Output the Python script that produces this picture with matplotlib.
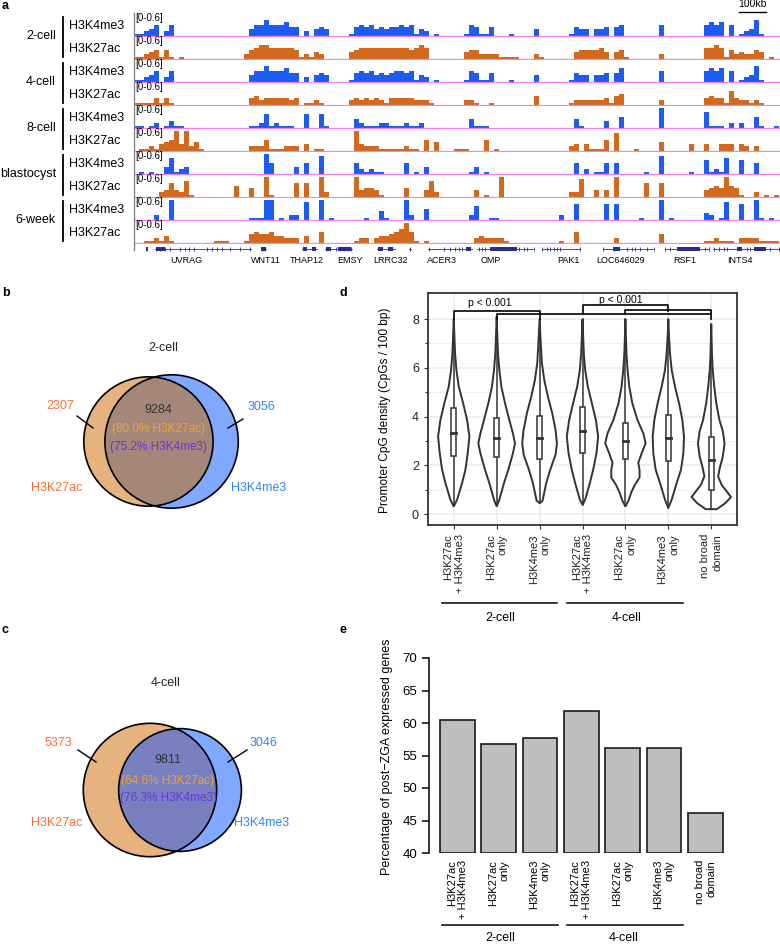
import matplotlib
matplotlib.use('Agg')
import matplotlib.pyplot as plt
import numpy as np
from matplotlib.patches import Circle, Rectangle, Polygon
from matplotlib.lines import Line2D
from matplotlib import transforms

plt.rcParams['font.family'] = ['Liberation Sans', 'DejaVu Sans']

W, H = 780, 944

# ---------------- panel a : genome browser tracks ----------------
stages = ['2-cell', '4-cell', '8-cell', 'blastocyst', '6-week']
marks = ['H3K4me3', 'H3K27ac']
n_bins = 130          # 1 bin ~ 18.5 kb
sig_unit = 0.065      # signal step (track range 0-0.6)

k4_2cell = {0:1,1:1,2:2,3:3,4:5,6:2,7:5, 23:3,24:5,25:5,26:7,27:5,28:5,29:5,30:6,31:4,32:4,
            34:2,36:3,37:4,38:3, 43:1,44:4,45:5,46:4,47:5,48:3,49:4,50:3,51:4,52:4,53:5,54:4,55:5,
            56:1,57:3,58:2,60:1, 66:1,67:5,68:4,69:1,70:1,71:4,75:1, 80:3, 87:1,88:4,89:3,90:3,
            92:3,93:3,94:4,96:4,97:5, 105:5, 114:5,115:6,116:5,117:6,119:5,121:1,122:2,123:3,124:7,125:1}
k27_2cell = {0:1,1:1,2:2,3:3,4:4,5:1,6:4,7:1,9:1, 22:2,23:4,24:5,25:6,26:6,27:5,28:5,29:5,30:5,31:5,
             32:4,33:1,34:2,35:1,36:3,37:2, 43:3,44:4,45:5,46:5,47:5,48:5,49:5,50:5,51:5,52:5,53:5,
             54:5,55:4,56:5,57:6,58:5, 66:3,67:4,68:4,69:2,70:2,71:2,72:2,73:1,74:1,75:1,76:1, 80:2,81:1,
             88:3,89:4,90:4,91:4,92:4,93:5,94:3,96:3,97:4,98:1, 105:2, 114:5,115:5,116:6,117:5,118:1,
             119:4,120:2,121:3,122:2,123:2,124:4,125:3,127:1}
k4_4cell = {0:1,1:1,2:2,3:3,4:5,6:2,7:5, 23:3,24:5,25:5,26:7,27:5,28:5,29:5,30:6,31:4,32:4,
            34:2,36:3,37:4,38:3, 43:1,44:4,45:5,46:4,47:5,48:3,49:4,50:3,51:4,52:5,53:5,54:4,55:5,
            56:1,57:3,58:2,60:1, 66:1,67:5,68:4,69:1,70:1,71:4,75:1, 80:3, 87:1,88:4,89:3,90:3,
            92:3,93:3,94:4,96:4,97:6, 105:5, 114:5,115:6,116:5,117:6,119:5,121:1,122:2,123:3,124:7,125:1}
k27_4cell = {0:1,1:1,2:1,3:1,4:3,5:1,6:3,7:1, 23:3,24:4,25:2,26:3,27:3,28:3,29:3,30:3,31:2,32:3,
             34:1,35:1,36:2,37:1, 43:2,44:3,45:2,46:3,47:2,48:3,49:2,50:1,51:3,52:3,53:3,54:3,55:3,
             56:2,57:2,58:2,59:1, 66:2,67:2,68:1,71:1, 80:4, 87:1,88:2,89:2,90:2,91:2,92:2,93:2,94:3,
             95:1,96:4,97:5, 105:2, 114:3,115:4,116:3,117:3,118:1,119:6,120:3,121:2,122:2,123:1,124:2,125:1}
k4_8cell = {0:1,1:1,3:1,4:2,6:1,7:3,8:1,9:1, 23:1,24:1,25:2,26:6,27:1,28:2,29:1,30:1,31:1,
            34:6,37:6,38:1, 44:4,45:2,46:1,47:1,48:1,49:2,50:2,51:1,52:1,53:1,54:2,55:1,56:1,57:2,
            67:4,68:1,69:1,70:1, 88:4,89:1,94:3,97:5, 105:9, 114:7,115:1,116:1,117:1,119:2,121:2,
            124:5,125:1,128:1}
k27_8cell = {1:1,2:1,3:2,4:1,5:3,6:4,7:5,8:9,9:3,10:9,11:2,12:4,13:1, 23:2,24:2,25:2,26:5,27:1,28:1,
             29:1,30:2,31:2,32:2,34:3,36:1,37:1, 44:9,45:3,46:2,47:2,48:2,49:1,50:1,51:1,52:1,53:1,
             54:2,55:1,56:1,58:5,60:4,64:1,65:1,66:1,70:5,72:1, 87:2,88:3,90:3,91:1,92:1,93:1,94:5,
             96:8, 100:1,105:4,111:3,114:3,117:3,118:3,119:3,121:3,122:2,124:2}
k4_blast = {1:1,3:1,6:3,7:7,8:1,9:2,10:3, 26:9,27:5,32:3,34:5,37:8, 44:5,45:2,46:1,47:2,48:1,49:1,
            54:5,56:1,58:3,67:1,68:3,70:1, 88:5,90:2,92:1,93:1,94:5,96:5,102:1,105:8,111:1,
            114:6,115:1,116:2,117:1,118:7,121:6,124:5}
k27_blast = {5:2,6:3,7:6,8:3,9:2,10:7,11:1, 20:5,23:4,26:9,27:1,32:6,34:6,37:9,38:2, 44:9,45:3,
             46:4,47:4,48:3,49:1, 54:4,58:3,59:7,60:2,68:3,70:1,73:9, 87:2,88:2,89:8,92:3,94:3,
             96:9,102:6,105:6, 114:3,115:4,116:5,117:4,118:9,119:5,120:4,121:1,124:2,126:1,128:1}
k4_6week = {4:2,7:9, 23:1,24:1,25:1,26:9,27:9,29:1,31:2,32:2,34:8,37:9,39:1,46:1, 49:4,50:1,
            54:9,55:2,58:5,67:2,68:6,71:1,72:1, 85:2,88:7,94:7,96:7,101:1,105:9,107:1,
            114:3,115:2,117:1,118:8,121:7,124:9,125:1,127:1}
k27_6week = {2:1,3:1,4:2,5:1,6:3,7:1,16:1,17:1,18:1,22:1,23:4,24:5,25:4,26:4,27:5,28:3,29:3,30:2,
             31:2,32:2,34:3,37:5,44:1,45:2,46:2,48:2, 49:3,50:3,51:4,52:5,53:6,54:9,55:5,56:1,58:1,
             68:2,69:3,70:2,71:2,72:2,73:2,74:1,85:1,88:5,96:2,105:4,114:1,115:1,116:2,117:1,
             118:1,119:1,121:2,122:2,123:2,124:2,125:1,126:1,127:1,128:1}
tracks = [k4_2cell, k27_2cell, k4_4cell, k27_4cell, k4_8cell, k27_8cell,
          k4_blast, k27_blast, k4_6week, k27_6week]

genes = ['UVRAG', 'WNT11', 'THAP12', 'EMSY', 'LRRC32', 'ACER3', 'OMP', 'PAK1', 'LOC646029', 'RSF1', 'INTS4']
gene_label_pos = [10.4, 26.4, 34.6, 43.2, 51.2, 61.6, 71.4, 86.8, 97.4, 110.2, 121.2]
gene_spans = [(4.2, 23.4), (25.4, 26.4), (33.6, 36.6), (38.2, 43.6), (48.6, 52.2), (55.0, 55.4),
              (58.8, 67.6), (68.6, 79.8), (81.6, 89.2), (93.8, 103.8), (106.2, 114.8), (115.8, 129.5)]
exon_ticks = [2.6, 4.4, 5.2, 6.2, 7.2, 9.2, 10.2, 10.9, 11.9, 14.5, 15.5, 16.5, 17.5, 19.2, 21.2, 23.1,
              25.6, 26.2, 38.4, 39.2, 40.4, 41.2, 42.0, 42.8, 43.4, 55.2, 58.9, 61.9, 63.2, 64.2, 64.9,
              65.5, 68.9, 69.5, 70.2, 76.9, 77.9, 78.5, 79.9, 81.6, 82.5, 83.2, 83.9, 84.5, 85.2, 89.2,
              93.7, 95.9, 98.5, 99.5, 100.2, 101.2, 102.5, 103.9, 106.2, 107.2, 114.2, 114.9, 115.9,
              116.9, 117.9, 118.5, 122.5, 123.2, 127.2, 128.9]
exon_blocks = [(2.4, 2.8), (4.4, 6.2), (25.4, 26.4), (33.7, 34.6), (35.5, 36.4), (38.3, 39.4),
               (40.8, 43.4), (48.8, 49.8), (50.8, 51.8), (66.4, 67.4), (71.2, 76.5), (95.7, 97.2),
               (108.5, 113.2), (120.5, 121.6), (124.0, 126.3)]
scale_bar_bins = 5.4  # 100 kb

# ---------------- panels b, c : Venn ----------------
venn_2cell = (2307, 9284, 3056)     # H3K27ac only, both, H3K4me3 only
venn_2cell_pct = ('80.0%', '75.2%')
venn_4cell = (5373, 9811, 3046)
venn_4cell_pct = ('64.6%', '76.3%')

# ---------------- panel d : violins ----------------
categories = ['H3K27ac\n+ H3K4me3', 'H3K27ac\nonly', 'H3K4me3\nonly',
              'H3K27ac\n+ H3K4me3', 'H3K27ac\nonly', 'H3K4me3\nonly', 'no broad\ndomain']
violin_y = [
    [0.31, 0.59, 1.27, 1.82, 2.5, 3.18, 3.86, 4.55, 5.23, 5.91, 6.59, 7.28, 8.0],
    [0.31, 0.59, 1.27, 1.82, 2.5, 2.9, 3.3, 3.86, 4.55, 5.23, 5.91, 6.59, 7.28, 8.1],
    [0.45, 0.55, 1.27, 1.82, 2.45, 2.9, 3.45, 4.14, 4.82, 5.5, 6.2, 6.9, 8.0],
    [0.38, 0.59, 1.27, 1.82, 2.5, 3.18, 3.86, 4.55, 5.23, 5.91, 6.59, 7.28, 8.0],
    [0.31, 0.55, 0.9, 1.2, 1.5, 1.8, 2.1, 2.5, 2.9, 3.3, 3.86, 4.55, 5.23, 5.91, 6.59, 7.3, 8.0],
    [0.25, 0.59, 1.27, 1.82, 2.5, 3.18, 3.86, 4.55, 5.23, 5.91, 6.59, 7.28, 8.0],
    [0.2, 0.45, 0.7, 0.95, 1.2, 1.55, 1.9, 2.36, 2.9, 3.4, 3.86, 4.55, 5.23, 5.9, 6.6, 7.8],
]
violin_hw = [
    [0.0, 0.078, 0.194, 0.272, 0.326, 0.365, 0.311, 0.218, 0.117, 0.062, 0.031, 0.016, 0.0],
    [0.0, 0.062, 0.171, 0.272, 0.38, 0.427, 0.38, 0.295, 0.194, 0.109, 0.062, 0.031, 0.016, 0.0],
    [0.0, 0.07, 0.155, 0.249, 0.373, 0.404, 0.373, 0.295, 0.194, 0.109, 0.054, 0.031, 0.0],
    [0.0, 0.062, 0.171, 0.249, 0.326, 0.365, 0.311, 0.218, 0.124, 0.062, 0.031, 0.016, 0.0],
    [0.0, 0.07, 0.14, 0.22, 0.33, 0.33, 0.30, 0.38, 0.47, 0.42, 0.28, 0.16, 0.09, 0.05, 0.025, 0.012, 0.0],
    [0.0, 0.078, 0.194, 0.295, 0.35, 0.365, 0.326, 0.249, 0.155, 0.078, 0.039, 0.016, 0.0],
    [0.13, 0.33, 0.46, 0.35, 0.24, 0.16, 0.2, 0.27, 0.31, 0.27, 0.19, 0.117, 0.07, 0.035, 0.016, 0.0],
]
box_q1 = [2.4, 2.33, 2.25, 2.52, 2.27, 2.18, 1.0]
box_med = [3.32, 3.11, 3.11, 3.39, 3.0, 3.11, 2.22]
box_q3 = [4.37, 3.96, 4.04, 4.38, 3.75, 4.07, 3.18]
# (group i, group j, bar height, left leg end, right leg end)
brackets = [(1, 3, 8.34, 8.0, 8.0), (2, 7, 8.19, 8.0, 8.0), (4, 6, 8.56, 8.23, 8.34), (5, 7, 8.37, 8.23, 8.19)]
pval_labels = [(1.85, 8.67, 'p < 0.001'), (4.9, 8.8, 'p < 0.001')]

# ---------------- panel e : bars ----------------
pct_expressed = [60.4, 56.8, 57.7, 61.9, 56.1, 56.1, 46.2]

fig = plt.figure(figsize=(W / 100, H / 100), dpi=100)


def add_ax(left, top, right, bottom):
    return fig.add_axes([left / W, 1 - bottom / H, (right - left) / W, (bottom - top) / H])


def fx(x):
    return x / W


def fy(y):
    return 1 - y / H


# ---- panel a ----
col = {'H3K4me3': '#1c5cf4', 'H3K27ac': '#d2691c'}
bins = np.arange(n_bins)
for i, tr in enumerate(tracks):
    yb = 36 + 23 * i
    ax = add_ax(134, yb - 21, 780, yb + 1)
    vals = np.zeros(n_bins)
    for b, h in tr.items():
        vals[b] = h * sig_unit
    ax.bar(bins, vals, width=1.0, align='edge', color=col[marks[i % 2]], linewidth=0)
    ax.axhline(0, color='#ff77ff', lw=0.9)
    ax.set_xlim(0, 129.2)
    ax.set_ylim(-0.6 / 21, 0.6)
    ax.axis('off')
    fig.text(fx(135), fy(yb - 18), '[0-0.6]', fontsize=7, ha='left', va='center')
    fig.text(fx(69), fy(yb - 10), marks[i % 2], fontsize=9, ha='left', va='center')
    if i == 0:
        ax.plot([121, 121 + scale_bar_bins], [0.68, 0.68], color='k', lw=1, clip_on=False)
        ax.text(121 + scale_bar_bins / 2, 0.92, '100kb', fontsize=7.5, ha='center', va='center', clip_on=False)

for j, st in enumerate(stages):
    yb = 36 + 46 * j
    fig.text(fx(56), fy(yb), st, fontsize=9, ha='right', va='center')
    fig.add_artist(Line2D([fx(63), fx(63)], [fy(yb - 19), fy(yb + 21)], color='k', lw=1.3))
fig.add_artist(Line2D([fx(133.5), fx(133.5)], [fy(13), fy(250)], color='#888888', lw=1))

axg = add_ax(134, 244, 780, 254)
axg.set_xlim(0, 129.2)
axg.set_ylim(-1, 1)
axg.axis('off')
navy = '#2a2a90'
for s, e in gene_spans:
    axg.plot([s, e], [0, 0], color=navy, lw=0.6)
axg.vlines(exon_ticks, -0.5, 0.5, color=navy, lw=0.6)
for s, e in exon_blocks:
    axg.add_patch(Rectangle((s, -0.45), e - s, 0.9, color=navy, lw=0))
for name, p in zip(genes, gene_label_pos):
    axg.text(p, -2.3, name, fontsize=6.5, ha='center', va='center', clip_on=False)

# ---- panels b, c ----


def lens_area(r1, r2, d):
    if d >= r1 + r2:
        return 0.0
    if d <= abs(r1 - r2):
        return np.pi * min(r1, r2) ** 2
    a1 = r1 ** 2 * np.arccos((d * d + r1 * r1 - r2 * r2) / (2 * d * r1))
    a2 = r2 ** 2 * np.arccos((d * d + r2 * r2 - r1 * r1) / (2 * d * r2))
    a3 = 0.5 * np.sqrt((-d + r1 + r2) * (d + r1 - r2) * (d - r1 + r2) * (d + r1 + r2))
    return a1 + a2 - a3


def draw_venn(ax, counts, pcts, title, cx, cy, inter_color, t):
    only_ac, both, only_me = counts
    tot_ac, tot_me = only_ac + both, only_me + both
    r_max = 66.7
    scale = np.pi * r_max ** 2 / max(tot_ac, tot_me)
    r_ac = np.sqrt(tot_ac * scale / np.pi)
    r_me = np.sqrt(tot_me * scale / np.pi)
    target = both * scale
    lo, hi = abs(r_ac - r_me) + 1e-6, r_ac + r_me
    for _ in range(60):
        mid = (lo + hi) / 2
        if lens_area(r_ac, r_me, mid) > target:
            lo = mid
        else:
            hi = mid
    d = (lo + hi) / 2
    c_ac = (cx - d / 2, cy)
    c_me = (cx + d / 2, cy)
    ac = Circle(c_ac, r_ac, fc='#e6b27e', ec='none')
    me = Circle(c_me, r_me, fc='#80a8ff', ec='none')
    ax.add_patch(ac)
    ax.add_patch(me)
    inter = Circle(c_me, r_me, fc=inter_color, ec='none')
    ax.add_patch(inter)
    inter.set_clip_path(ac)
    ax.add_patch(Circle(c_ac, r_ac, fill=False, ec='k', lw=1.2))
    ax.add_patch(Circle(c_me, r_me, fill=False, ec='k', lw=1.2))
    ax.text(t['title'][0], t['title'][1], title, fontsize=9, ha='center', va='center', color='#222')
    ax.text(*t['n_ac'], f'{only_ac}', fontsize=9, ha='center', va='center', color='#ff6a33')
    ax.text(*t['n_me'], f'{only_me}', fontsize=9, ha='center', va='center', color='#2b86ff')
    ax.text(*t['n_both'], f'{both}', fontsize=9, ha='center', va='center', color='#333333')
    ax.text(*t['p_ac'], f'({pcts[0]} H3K27ac)', fontsize=8.5, ha='center', va='center', color='#f0a22e')
    ax.text(*t['p_me'], f'({pcts[1]} H3K4me3)', fontsize=8.5, ha='center', va='center', color='#6633e0')
    ax.text(*t['l_ac'], 'H3K27ac', fontsize=9, ha='center', va='center', color='#ff6a33')
    ax.text(*t['l_me'], 'H3K4me3', fontsize=9, ha='center', va='center', color='#2b86ff')
    for seg in t['leaders']:
        ax.plot([seg[0], seg[2]], [seg[1], seg[3]], color='k', lw=1)


axv = add_ax(0, 300, 340, 900)
axv.set_xlim(0, 340)
axv.set_ylim(900, 300)
axv.axis('off')
draw_venn(axv, venn_2cell, venn_2cell_pct, '2-cell', 160, 441.5, '#a5877a',
          {'title': (163, 348), 'n_ac': (60, 406), 'n_me': (261, 407), 'n_both': (158, 410),
           'p_ac': (158, 429), 'p_me': (158, 447), 'l_ac': (57, 488), 'l_me': (259, 488),
           'leaders': [(77, 416, 93, 428), (243, 419, 228, 428)]})
draw_venn(axv, venn_4cell, venn_4cell_pct, '4-cell', 165, 790, '#7880c0',
          {'title': (166, 683), 'n_ac': (58, 743), 'n_me': (263, 743), 'n_both': (168, 760),
           'p_ac': (168, 781), 'p_me': (168, 798), 'l_ac': (57, 823), 'l_me': (262, 823),
           'leaders': [(78, 750, 96, 762), (247, 750, 228, 762)]})

# ---- panel d ----
axd = add_ax(428, 293, 737, 525)
xs = np.arange(1, 8)
axd.set_xlim(0.4, 7.6)
axd.set_ylim(-0.45, 9.07)
axd.set_yticks([0, 2, 4, 6, 8])
axd.set_yticks([1, 3, 5, 7], minor=True)
axd.grid(True, which='major', color='#ebebeb', lw=1.1)
axd.grid(True, which='minor', axis='y', color='#ebebeb', lw=0.6)
axd.set_axisbelow(True)
for sp in axd.spines.values():
    sp.set_color('#333333')
    sp.set_linewidth(1.3)
for i in range(7):
    y = np.array(violin_y[i])
    hw = np.array(violin_hw[i])
    poly = np.column_stack([np.concatenate([xs[i] - hw, (xs[i] + hw)[::-1]]),
                            np.concatenate([y, y[::-1]])])
    axd.add_patch(Polygon(poly, closed=True, fc='white', ec='#333333', lw=1.4, zorder=2))
    axd.plot([xs[i], xs[i]], [y[0], y[-1]], color='#333333', lw=1.1, zorder=3)
    axd.add_patch(Rectangle((xs[i] - 0.06, box_q1[i]), 0.12, box_q3[i] - box_q1[i],
                            fc='white', ec='#333333', lw=1.1, zorder=4))
    axd.plot([xs[i] - 0.06, xs[i] + 0.06], [box_med[i]] * 2, color='#333333', lw=2, zorder=5)
for a, b, yb, l1, l2 in brackets:
    axd.plot([a, a, b, b], [l1, yb, yb, l2], color='k', lw=1.2, zorder=6, clip_on=False)
for x, y, s in pval_labels:
    axd.text(x, y, s, fontsize=7.5, ha='center', va='center')
axd.set_xticks(xs)
axd.set_xticklabels(categories, rotation=90, ha='center', va='top', multialignment='right', fontsize=8)
axd.tick_params(axis='both', length=3, color='#333333', labelcolor='#222222')
axd.tick_params(axis='y', labelsize=9)
axd.tick_params(axis='x', which='minor', length=0)
fig.text(fx(385), fy(410), 'Promoter CpG density (CpGs / 100 bp)', rotation=90,
         fontsize=8.6, ha='center', va='center')
td = transforms.blended_transform_factory(axd.transData, fig.transFigure)
for (s, e), xt, lab in [((0.72, 3.4), 2.08, '2-cell'), ((3.65, 6.35), 5.02, '4-cell')]:
    fig.add_artist(Line2D([s, e], [fy(603), fy(603)], transform=td, color='k', lw=1.1))
    fig.text(xt, fy(618), lab, transform=td, fontsize=9, ha='center', va='center')

# ---- panel e ----
axe = add_ax(429, 658, 740, 853)
xe = np.arange(7)
base = 40
axe.bar(xe, np.array(pct_expressed) - base, bottom=base, width=0.84,
        color='#bebebe', edgecolor='#1a1a1a', lw=1.2)
axe.set_ylim(40, 70)
axe.set_xlim(-0.69, 6.84)
axe.set_yticks([40, 45, 50, 55, 60, 65, 70])
for s in ['top', 'right', 'bottom']:
    axe.spines[s].set_visible(False)
axe.spines['left'].set_linewidth(1.1)
axe.tick_params(axis='y', length=5, width=1.1, labelsize=9.5)
axe.set_xticks(xe)
axe.set_xticklabels(categories, rotation=90, ha='center', va='top', multialignment='right', fontsize=8)
axe.tick_params(axis='x', length=0, pad=5)
fig.text(fx(387), fy(757), 'Percentage of post\u2212ZGA expressed genes', rotation=90,
         fontsize=9, ha='center', va='center')
te = transforms.blended_transform_factory(axe.transData, fig.transFigure)
for (s, e), xt, lab in [((-0.375, 2.43), 1.03, '2-cell'), ((2.65, 5.46), 4.03, '4-cell')]:
    fig.add_artist(Line2D([s, e], [fy(925), fy(925)], transform=te, color='k', lw=1.1))
    fig.text(xt, fy(938), lab, transform=te, fontsize=9, ha='center', va='center')

# panel letters
for lab, x, y in [('a', 2, 6), ('b', 2, 293), ('c', 2, 630), ('d', 340, 293), ('e', 340, 630)]:
    fig.text(fx(x), fy(y), lab, fontsize=9, fontweight='bold', ha='left', va='center')

fig.savefig('out.png', dpi=100)
